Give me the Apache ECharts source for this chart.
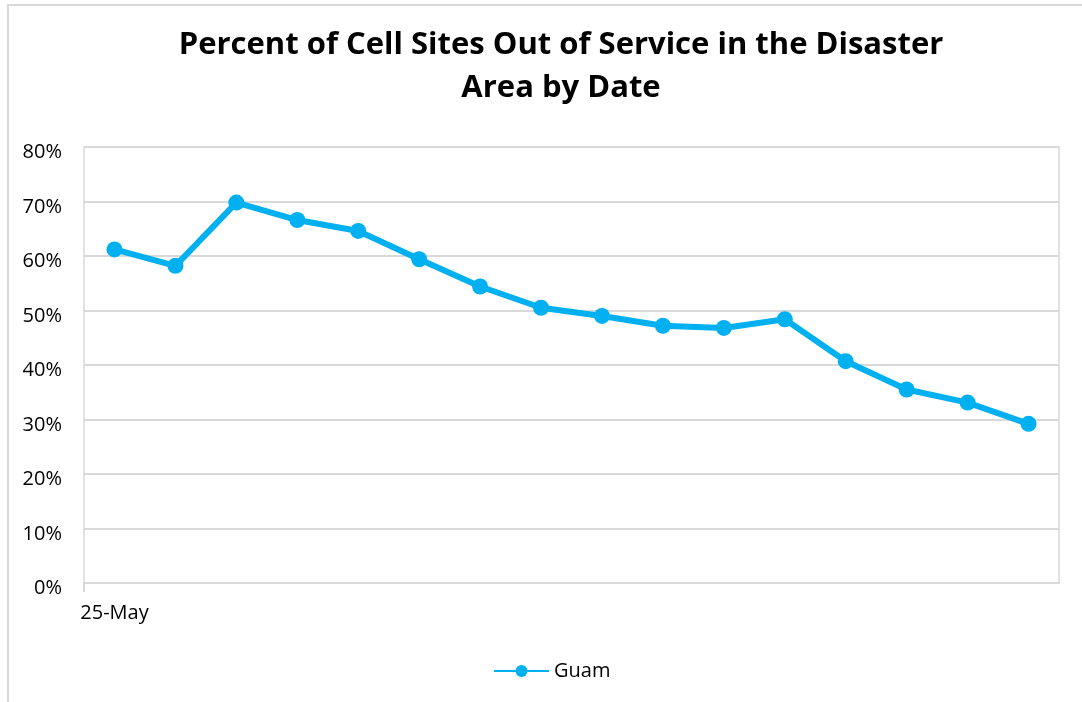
<!DOCTYPE html>
<html>
<head>
<meta charset="utf-8">
<script src="https://cdn.jsdelivr.net/npm/echarts@6/dist/echarts.min.js"></script>
<style>
html,body{margin:0;padding:0;background:#fff;}
#frame{position:absolute;left:7px;top:4px;width:1200px;height:800px;border-left:2px solid #d9d9d9;border-top:2px solid #d9d9d9;box-sizing:border-box;}
#chart{position:absolute;left:0;top:0;width:1082px;height:702px;}
</style>
</head>
<body>
<div id="frame"></div>
<div id="chart"></div>
<script>
const titleText = 'Percent of Cell Sites Out of Service in the Disaster\nArea by Date';
const categories = ['25-May','26-May','27-May','28-May','29-May','30-May','31-May','1-Jun','2-Jun','3-Jun','4-Jun','5-Jun','6-Jun','7-Jun','8-Jun','9-Jun'];
const seriesName = 'Guam';
const guamValues = [0.612, 0.582, 0.698, 0.666, 0.646, 0.594, 0.544, 0.505, 0.490, 0.472, 0.468, 0.484, 0.407, 0.355, 0.331, 0.292];
const yTicks = { min: 0, max: 0.8, interval: 0.1 };

const GRID = { left: 84, right: 23, top: 147, bottom: 119 };
const chart = echarts.init(document.getElementById('chart'), null, { renderer: 'canvas' });
chart.setOption({
  animation: false,
  backgroundColor: 'transparent',
  title: {
    text: titleText,
    left: 556,
    textAlign: 'center',
    top: 19,
    textStyle: { fontFamily: 'Open Sans', fontWeight: 'bold', fontSize: 31, lineHeight: 43, color: '#000' }
  },
  legend: {
    data: [seriesName],
    left: 488,
    top: 656,
    itemWidth: 55,
    itemHeight: 15,
    itemGap: 5,
    textStyle: { fontFamily: 'Open Sans', fontSize: 20, color: '#000' }
  },
  grid: {
    left: GRID.left, right: GRID.right, top: GRID.top, bottom: GRID.bottom,
    show: true, borderColor: '#d9d9d9', borderWidth: 1.5, backgroundColor: 'transparent'
  },
  graphic: [{
    type: 'line',
    shape: { x1: GRID.left, y1: 702 - GRID.bottom, x2: GRID.left, y2: 702 - GRID.bottom + 9 },
    style: { stroke: '#d9d9d9', lineWidth: 2 }
  }],
  xAxis: {
    type: 'category',
    data: categories,
    boundaryGap: true,
    axisLine: { show: true, lineStyle: { color: '#d9d9d9', width: 2 } },
    axisTick: { show: false },
    axisLabel: {
      interval: (i) => i === 0,
      fontFamily: 'Open Sans', fontSize: 20, color: '#000', margin: 20
    },
    splitLine: { show: false }
  },
  yAxis: {
    type: 'value',
    min: yTicks.min, max: yTicks.max, interval: yTicks.interval,
    axisLine: { show: false },
    axisTick: { show: false },
    axisLabel: {
      margin: 22,
      formatter: (v) => '{p|' + Math.round(v * 100) + '%}',
      rich: {
        p: { fontFamily: 'Open Sans', fontSize: 20, color: '#000', padding: [11, 0, 0, 0] }
      }
    },
    splitLine: { lineStyle: { color: '#d9d9d9', width: 2 } }
  },
  series: [{
    name: seriesName,
    type: 'line',
    data: guamValues,
    symbol: 'circle',
    symbolSize: 16,
    lineStyle: { color: '#00B0F0', width: 6 },
    itemStyle: { color: '#00B0F0' }
  }]
});
</script>
</body>
</html>
